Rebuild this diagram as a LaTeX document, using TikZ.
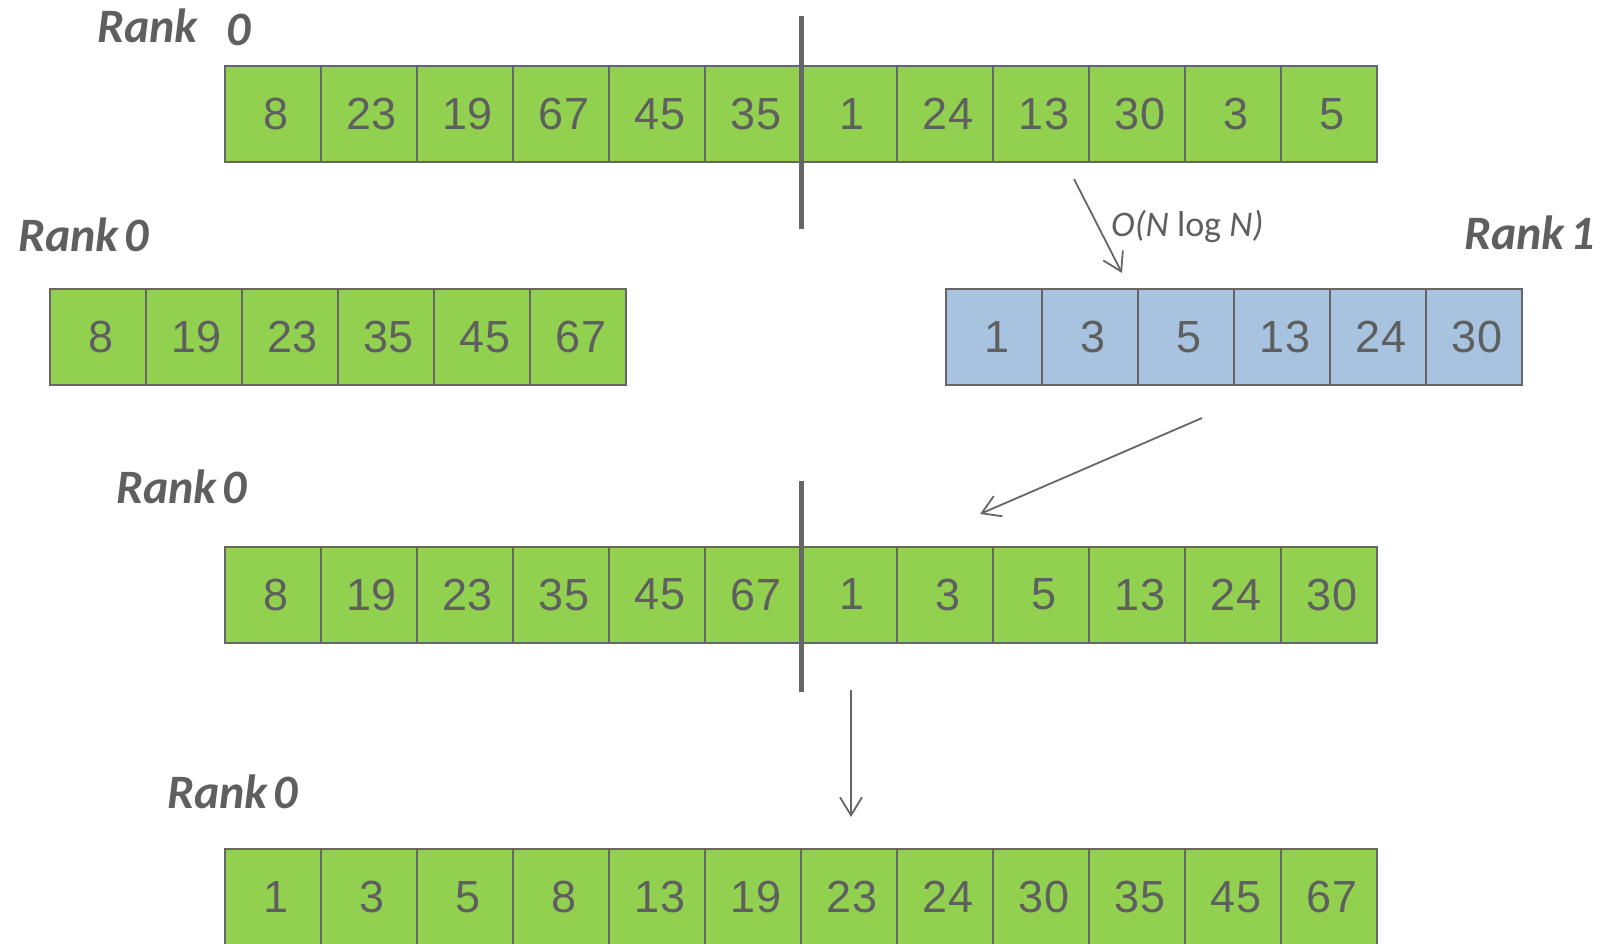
\documentclass[tikz,border=0pt]{standalone}
\usepackage{fontspec}
\setmainfont{Liberation Sans}
\newfontfamily\lblfont{Carlito}
\usetikzlibrary{arrows.meta}
\definecolor{cellgreen}{HTML}{92D050}
\definecolor{cellblue}{HTML}{A7C3DF}
\definecolor{txtgray}{HTML}{5F5F5F}
\definecolor{linegray}{HTML}{666666}
\begin{document}
\begin{tikzpicture}[x=1pt,y=-1pt,
 cell/.style={draw=linegray, line width=2pt, minimum width=96pt, minimum height=96pt, inner sep=0pt, outer sep=0pt, font=\fontsize{45}{45}\selectfont, text=txtgray, execute at begin node={\hspace*{6pt}}},
 gcell/.style={cell, fill=cellgreen},
 bcell/.style={cell, fill=cellblue},
 ranklbl/.style={anchor=base west, inner sep=0pt, font=\lblfont\bfseries\itshape\fontsize{48}{48}\selectfont, text=txtgray},
 cplx/.style={anchor=base west, inner sep=0pt, font=\lblfont\fontsize{36}{36}\selectfont, text=txtgray},
 divider/.style={draw=linegray, line width=5pt},
 flow/.style={draw=linegray, line width=1.8pt, -{Straight Barb[length=18pt,width=22pt,line width=1.8pt]}}]
\useasboundingbox (0,0) rectangle (1600,943);
% row 1
\foreach \v [count=\i from 0] in {8,23,19,67,45,35,1,24,13,30,3,5}
  \node[gcell] (a\i) at (273+96*\i,114) {\v};
% row 2 left
\foreach \v [count=\i from 0] in {8,19,23,35,45,67}
  \node[gcell] (b\i) at (98+96*\i,337) {\v};
% row 2 right
\foreach \v [count=\i from 0] in {1,3,5,13,24,30}
  \node[bcell] (c\i) at (994+96*\i,337) {\v};
% row 3
\foreach \v [count=\i from 0] in {8,19,23,35,45,67,1,3,5,13,24,30}
  \node[gcell] (d\i) at (273+96*\i,594.5) {\v};
% row 4
\foreach \v [count=\i from 0] in {1,3,5,8,13,19,23,24,30,35,45,67}
  \node[gcell] (e\i) at (273+96*\i,897) {\v};
% dividers
\coordinate (v1t) at (801,16);
\coordinate (v1b) at (801,229);
\coordinate (v2t) at (801,481);
\coordinate (v2b) at (801,692);
\draw[divider] (v1t) -- (v1b);
\draw[divider] (v2t) -- (v2b);
% labels
\node[ranklbl] (r1) at (97,42) {Rank\hspace{29pt}\raisebox{-3pt}{0}};
\node[ranklbl] (r2) at (18,251) {Rank\hspace{6pt}0};
\node[ranklbl] (r3) at (1464,249) {Rank\hspace{6pt}1};
\node[ranklbl] (r4) at (116,503) {Rank\hspace{6pt}0};
\node[ranklbl] (r5) at (167,808) {Rank\hspace{6pt}0};
\node[cplx] (cx) at (1111,236) {\itshape O(N\/ \upshape log \itshape N)};
% arrows
\coordinate (s1) at (1074,179);
\coordinate (t1) at (1122,273);
\coordinate (s2) at (1202,418);
\coordinate (t2) at (980,514);
\coordinate (s3) at (851,690);
\coordinate (t3) at (851,817);
\draw[flow] (s1) -- (t1);
\draw[flow] (s2) -- (t2);
\draw[flow] (s3) -- (t3);
\end{tikzpicture}
\end{document}
